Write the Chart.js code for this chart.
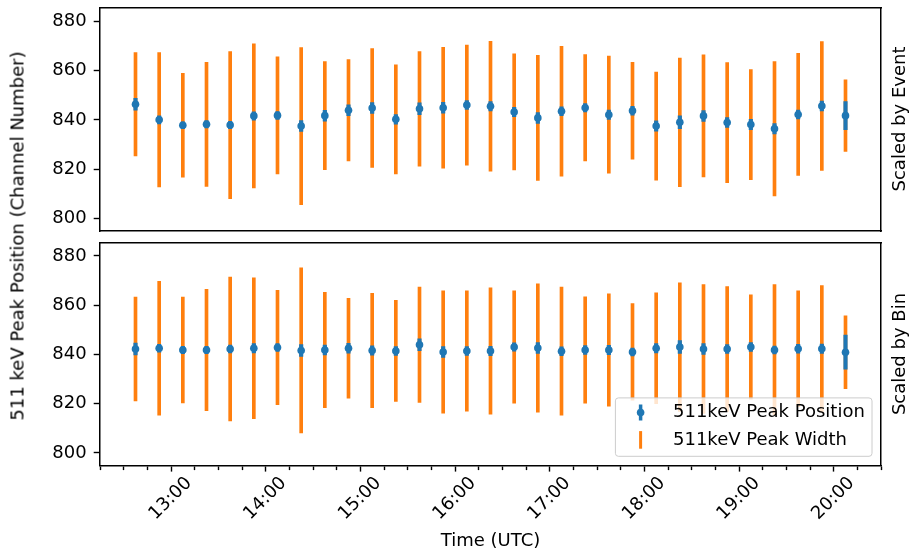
<!DOCTYPE html>
<html>
<head>
<meta charset="utf-8">
<title>511 keV peak position</title>
<script src="https://cdn.jsdelivr.net/npm/chart.js@4.4.1/dist/chart.umd.min.js"></script>
<style>
  body { margin: 0; background: #fff; }
  #wrap { position: relative; width: 910px; height: 554px; font-family: 'DejaVu Sans', sans-serif; color: #000; }
  #wrap canvas { position: absolute; left: 0; }
  .vlabel { position: absolute; font-size: 18px; white-space: nowrap; transform: translate(-50%, -50%) rotate(-90deg); }
</style>
</head>
<body>
<div id="wrap">
  <canvas id="eventChart" width="910" height="240" style="top:0"></canvas>
  <canvas id="binChart" width="910" height="318" style="top:236px"></canvas>
  <div class="vlabel" style="left:17px; top:236px">511 keV Peak Position (Channel Number)</div>
  <div class="vlabel" style="left:898px; top:119px">Scaled by Event</div>
  <div class="vlabel" style="left:898px; top:354px">Scaled by Bin</div>
</div>
<script>
// bin centres (UTC), 15 minute bins
var binTimes = ['12:37:30', '12:52:30', '13:07:30', '13:22:30', '13:37:30', '13:52:30', '14:07:30', '14:22:30',
                '14:37:30', '14:52:30', '15:07:30', '15:22:30', '15:37:30', '15:52:30', '16:07:30', '16:22:30',
                '16:37:30', '16:52:30', '17:07:30', '17:22:30', '17:37:30', '17:52:30', '18:07:30', '18:22:30',
                '18:37:30', '18:52:30', '19:07:30', '19:22:30', '19:37:30', '19:52:30', '20:07:30'];

// scaled by event
var posEvent = [846.3, 840.0, 837.8, 838.2, 837.9, 841.6, 841.8, 837.5, 841.7, 843.9, 844.8, 840.2, 844.5, 844.9, 846.0, 845.5,
                843.2, 840.8, 843.5, 844.9, 842.1, 843.7, 837.5, 839.0, 841.6, 838.9, 838.1, 836.4, 842.2, 845.6, 841.7];
var posEventErr = [2.4, 1.6, 1.4, 1.5, 1.5, 1.7, 1.6, 2.2, 2.2, 2.2, 2.2, 1.9, 2.4, 2.2, 1.8, 1.9,
                   1.9, 2.2, 1.8, 1.7, 1.9, 1.8, 2.1, 2.6, 2.2, 2.0, 2.1, 2.1, 1.8, 2.0, 5.7];
var widthEvent = [20.9, 27.2, 21.0, 25.1, 29.8, 29.2, 23.7, 31.8, 21.9, 20.5, 24.1, 22.1, 23.2, 24.5, 24.3, 26.3,
                  23.5, 25.3, 26.3, 21.5, 23.7, 19.6, 21.9, 26.0, 24.7, 24.3, 22.3, 27.2, 24.7, 26.1, 14.5];

// scaled by bin
var posBin = [842.2, 842.5, 841.8, 841.8, 842.2, 842.5, 842.8, 841.6, 841.8, 842.5, 841.6, 841.4, 843.9, 841.0, 841.4, 841.4,
              843.0, 842.6, 841.3, 841.8, 841.8, 841.0, 842.5, 843.0, 842.2, 842.2, 843.0, 841.8, 842.3, 842.3, 840.9];
var posBinErr = [2.4, 1.6, 1.5, 1.5, 1.6, 1.9, 1.6, 2.4, 2.0, 2.0, 1.9, 1.8, 2.4, 2.2, 1.8, 1.9,
                 1.7, 2.2, 1.8, 1.8, 1.9, 1.6, 1.9, 2.6, 2.2, 1.8, 1.8, 1.6, 1.8, 1.9, 6.9];
var widthBin = [21.1, 27.2, 21.5, 24.6, 29.2, 28.6, 23.2, 33.5, 23.4, 20.3, 23.2, 20.5, 23.4, 24.8, 24.4, 25.6,
                22.8, 26.0, 26.0, 21.6, 22.8, 19.6, 22.5, 26.1, 26.1, 25.3, 21.2, 26.5, 23.5, 25.6, 14.8];

var yTicks = [800, 820, 840, 860, 880];
var legendLabels = ['511keV Peak Position', '511keV Peak Width'];

var BLUE = '#1f77b4', ORANGE = '#ff7f0e';
var FONT = {family: "'DejaVu Sans', sans-serif", size: 18};
var X_MIN = 735, X_MAX = 1230;   // 12:15 .. 20:30 in minutes
var Y_MIN = 795, Y_MAX = 885.5;
var FRAME = 1.5;

Chart.defaults.color = '#000';
Chart.defaults.font.family = FONT.family;

function toMinutes(s) {
    var p = s.split(':');
    return Number(p[0]) * 60 + Number(p[1]) + Number(p[2] || 0) / 60;
}

// fixed axis sizes, and no extra room for the outer tick labels
function fixWidth(w) {
    return function(scale) {
        scale.width = w;
        scale.paddingTop = scale.paddingBottom = scale.paddingLeft = scale.paddingRight = 0;
    };
}
function fixHeight(h) {
    return function(scale) {
        scale.height = h;
        scale.paddingTop = scale.paddingBottom = scale.paddingLeft = scale.paddingRight = 0;
    };
}

// axis that only draws one side of the panel frame
function frameAxis(position, min, max, fit) {
    return {
        type: 'linear', position: position, min: min, max: max,
        ticks: {display: false},
        grid: {display: false},
        border: {color: '#000', width: FRAME},
        afterFit: fit
    };
}

// legend box in the lower right corner of the panel
var peakLegend = {
    id: 'peakLegend',
    afterDatasetsDraw: function(chart) {
        var ctx = chart.ctx, area = chart.chartArea;
        ctx.save();
        ctx.font = FONT.size + 'px ' + FONT.family;
        var textW = Math.max.apply(null, legendLabels.map(function(t) { return ctx.measureText(t).width; }));
        var w = 57.6 + textW + 7.2, h = 58.4;
        var x0 = area.right - 9 - w, y0 = area.bottom - 9 - h;
        ctx.beginPath();
        ctx.roundRect(x0, y0, w, h, 3);
        ctx.fillStyle = 'rgba(255,255,255,0.8)';
        ctx.fill();
        ctx.strokeStyle = '#cccccc';
        ctx.lineWidth = 1;
        ctx.stroke();

        var hx = x0 + 25.2, r1 = y0 + 14.6, r2 = y0 + 42;
        ctx.lineCap = 'butt';
        ctx.strokeStyle = BLUE;
        ctx.lineWidth = 3.5;
        ctx.beginPath(); ctx.moveTo(hx, r1 - 8); ctx.lineTo(hx, r1 + 8); ctx.stroke();
        ctx.fillStyle = BLUE;
        ctx.beginPath(); ctx.arc(hx, r1, 3.8, 0, Math.PI * 2); ctx.fill();
        ctx.strokeStyle = ORANGE;
        ctx.lineWidth = 3;
        ctx.beginPath(); ctx.moveTo(hx, r2 - 8.8); ctx.lineTo(hx, r2 + 8.8); ctx.stroke();

        ctx.fillStyle = '#000';
        ctx.textBaseline = 'middle';
        ctx.textAlign = 'left';
        ctx.fillText(legendLabels[0], x0 + 57.6, r1);
        ctx.fillText(legendLabels[1], x0 + 57.6, r2);
        ctx.restore();
    }
};

function makePanel(canvasId, pos, posErr, width, o) {
    var times = binTimes.map(toMinutes);
    var widthBars = times.map(function(t, i) { return {x: t, y: [pos[i] - width[i], pos[i] + width[i]]}; });
    var errBars = times.map(function(t, i) { return {x: t, y: [pos[i] - posErr[i], pos[i] + posErr[i]]}; });
    var points = times.map(function(t, i) { return {x: t, y: pos[i]}; });

    var xAxis = {
        type: 'linear', position: 'bottom', min: X_MIN, max: X_MAX, offset: false,
        border: {color: '#000', width: FRAME},
        afterFit: fixHeight(o.bottomH)
    };
    if (o.showTime) {
        xAxis.ticks = {
            stepSize: 15, autoSkip: false, maxRotation: 45, minRotation: 45,
            padding: 1, labelOffset: o.labelOffset, font: FONT, color: '#000',
            callback: function(v) { return v % 60 === 0 ? (v / 60) + ':00' : ''; }
        };
        xAxis.grid = {
            offset: false, drawOnChartArea: false, drawTicks: true, tickLength: 6.3,
            tickColor: '#000', tickWidth: 1.4,
            // minor (quarter hour) ticks are shorter
            tickBorderDash: function(c) { return c.tick && c.tick.value % 60 !== 0 ? [3.6, 30] : []; }
        };
        xAxis.title = {display: true, text: 'Time (UTC)', font: FONT, color: '#000', padding: {top: 4, bottom: 1.5}};
    } else {
        xAxis.ticks = {display: false};
        xAxis.grid = {offset: false, drawOnChartArea: false, drawTicks: false};
    }

    return new Chart(document.getElementById(canvasId), {
        type: 'bar',
        data: {
            datasets: [
                {type: 'scatter', data: points, backgroundColor: BLUE, borderWidth: 0, pointRadius: 3.8, order: 0},
                {data: errBars, backgroundColor: BLUE, barThickness: 3.5, grouped: false, borderWidth: 0, order: 1},
                {data: widthBars, backgroundColor: ORANGE, barThickness: 3, grouped: false, borderWidth: 0, order: 2}
            ]
        },
        options: {
            responsive: false,
            animation: false,
            events: [],
            layout: {padding: 0, autoPadding: false},
            plugins: {legend: {display: false}, tooltip: {enabled: false}},
            scales: {
                x: xAxis,
                xTop: frameAxis('top', X_MIN, X_MAX, fixHeight(o.topH)),
                y: {
                    type: 'linear', position: 'left', min: Y_MIN, max: Y_MAX,
                    afterBuildTicks: function(scale) { scale.ticks = yTicks.map(function(v) { return {value: v}; }); },
                    ticks: {font: FONT, color: '#000', padding: 7},
                    grid: {drawOnChartArea: false, tickLength: 6.3, tickColor: '#000', tickWidth: 1.4},
                    border: {color: '#000', width: FRAME},
                    afterFit: fixWidth(100)
                },
                yRight: frameAxis('right', Y_MIN, Y_MAX, fixWidth(29))
            }
        },
        plugins: o.legend ? [peakLegend] : []
    });
}

makePanel('eventChart', posEvent, posEventErr, widthEvent, {topH: 7.5, bottomH: 9, showTime: false});
makePanel('binChart', posBin, posBinErr, widthBin, {topH: 6.3, bottomH: 88.7, showTime: true, labelOffset: 18, legend: true});
</script>
</body>
</html>
